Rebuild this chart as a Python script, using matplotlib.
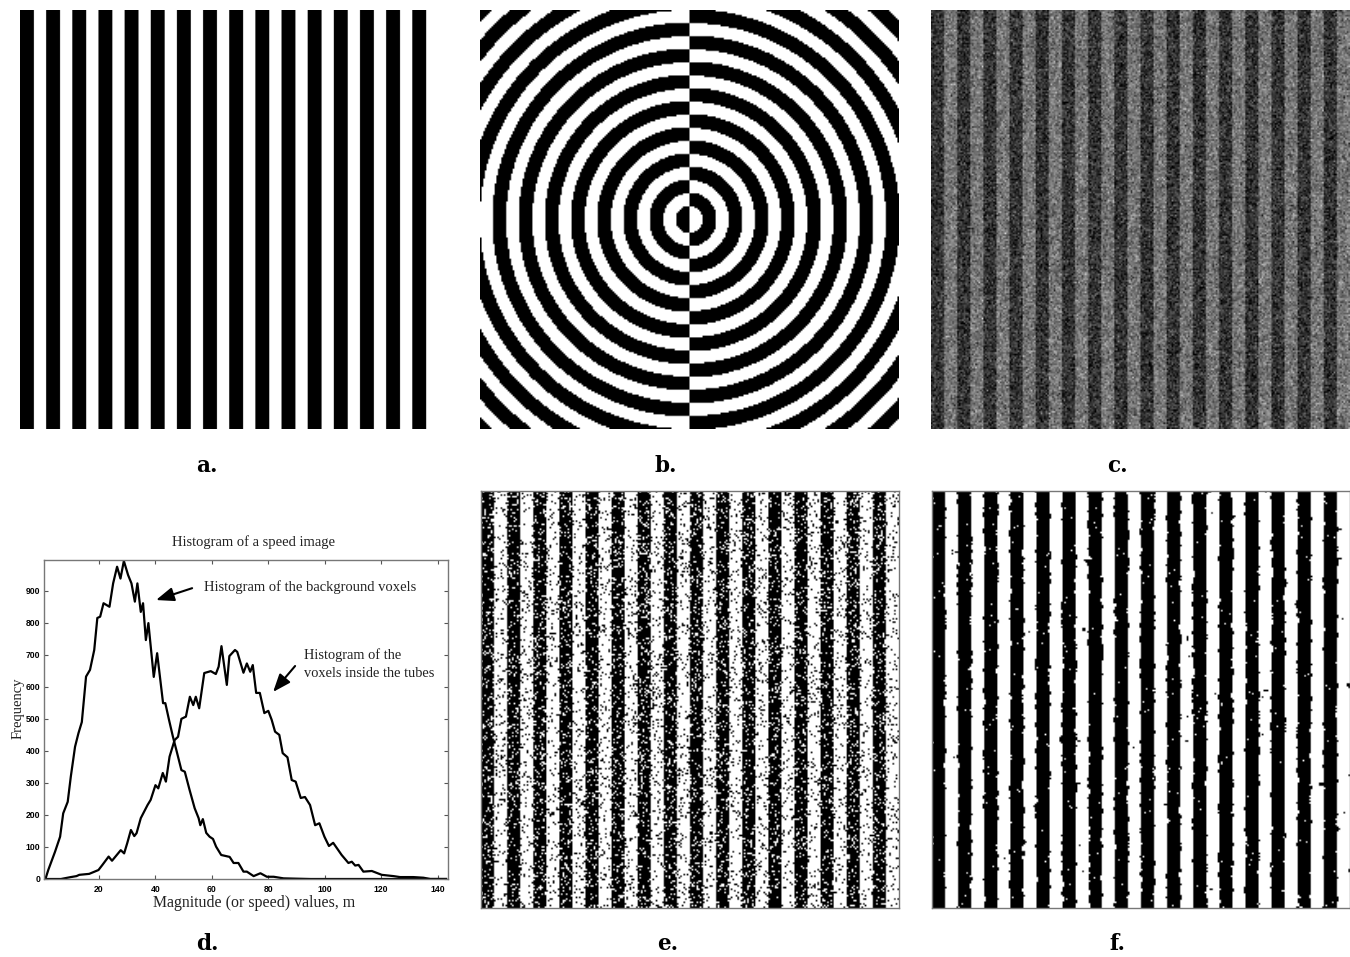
# Six panels: stripe and ring test images plus a speed histogram
import numpy as np
import matplotlib
matplotlib.use('Agg')
import matplotlib.pyplot as plt

W, H = 1350, 957

panel_labels = ['a.', 'b.', 'c.', 'd.', 'e.', 'f.']

# image panels are 256 px test images, stripes and rings repeat every 16 px
band = 8
period = 16
black_width = 8.5    # black bands print a bit wider than the white ones
grid = 256
stripes_a_cols = 249

# histogram of the background voxels
bg_x = [1, 2, 4.4, 6.2, 7.3, 8.9, 10, 11.5, 12.7, 13.9, 15.4, 16.8, 18.3, 19.4, 20.4, 21.6,
        23.7, 25, 26.4, 27.6, 28.8, 30.3, 31.5, 32.7, 33.6, 34.8, 35.6, 36.6, 37.5, 39.4,
        40.6, 42.7, 43.5, 44.8, 46.2, 47.4, 49.2, 50.4, 52.1, 53.9, 55.3, 55.9, 56.8, 58,
        59.2, 60.4, 61.5, 63.3, 66.3, 67.7, 69.4, 71.2, 72.4, 74.8, 77.2, 79.5, 81.9, 85.4,
        90, 95, 143]
bg_y = [0, 28, 85, 132, 205, 241, 320, 413, 455, 490, 632, 653, 715, 815, 819, 861,
        850, 923, 975, 938, 993, 949, 923, 866, 923, 834, 861, 746, 799, 631,
        705, 549, 549, 497, 444, 403, 340, 335, 278, 221, 190, 168, 187, 144,
        132, 125, 101, 75, 69, 50, 50, 23, 23, 9, 18, 7, 7, 2,
        1, 0, 0]

# histogram of the voxels inside the tubes
tube_x = [1, 3.6, 6.5, 10, 12, 13, 16.5, 19.8, 21.2, 23.4, 24.6, 27.7, 28.9, 30, 31.3, 32.5,
          33.3, 34.8, 37.2, 38.3, 40, 41, 42.6, 43.7, 45, 46.8, 48, 49.2, 50.8, 52.2, 53.4,
          54.3, 55.5, 57.3, 59.6, 61.4, 62.4, 63.4, 65.3, 66.2, 68.2, 69, 71.2, 72.4, 73.6,
          74.5, 75.7, 77, 78.6, 80, 81.2, 82.4, 83.9, 85.1, 86.8, 88.3, 89.7, 91.5, 93, 94.8,
          96.6, 98.1, 99.9, 101.5, 103, 106, 108.4, 109.6, 110.8, 112, 113.7, 116.7, 120.2,
          124.4, 126.7, 131.4, 135, 137.4, 143]
tube_y = [0, 0, 0, 6, 9, 13, 16, 28, 44, 70, 57, 90, 80, 112, 153, 134,
          143, 190, 231, 247, 293, 283, 331, 304, 382, 434, 444, 500, 507, 569, 543,
          569, 533, 643, 649, 640, 663, 727, 606, 696, 715, 709, 644, 673, 647,
          668, 581, 581, 518, 525, 497, 460, 450, 393, 380, 309, 304, 253, 256, 231,
          168, 174, 132, 103, 113, 75, 50, 54, 42, 44, 23, 25, 13,
          9, 6, 6, 4, 0, 0]

x_ticks = [20, 40, 60, 80, 100, 120, 140]
y_ticks = [0, 100, 200, 300, 400, 500, 600, 700, 800, 900]


def panel(left, top, right, bottom):
    return fig.add_axes([left / W, 1 - bottom / H, (right - left) / W, (bottom - top) / H])


def show(ax, img, framed=False, interp='bilinear'):
    ax.imshow(img, cmap='gray', vmin=0, vmax=1, interpolation=interp, aspect='auto')
    ax.set_xticks([])
    ax.set_yticks([])
    for s in ax.spines.values():
        s.set_visible(framed)
        s.set_color('#777777')
        s.set_linewidth(1)


def majority(img):
    # 3x3 majority vote, keeps some specks and rough stripe edges
    p = np.pad(img, 1, mode='edge')
    total = sum(np.roll(np.roll(p, i, 0), j, 1) for i in (-1, 0, 1) for j in (-1, 0, 1))
    return (total[1:-1, 1:-1] >= 5).astype(float)


fig = plt.figure(figsize=(W / 100, H / 100), dpi=100, facecolor='white')

cols = np.arange(grid)
rows = np.arange(grid)
xx, yy = np.meshgrid(cols, rows)
stripes = ((xx // band) % 2).astype(float)    # 0 black, 1 white

# a. clean stripes, sampled finer across so the black width can be fractional
fine_x = (np.arange(stripes_a_cols * 4) + 0.5) / 4
stripes_a = (fine_x % period >= black_width).astype(float)[None, :]
show(panel(20, 10, 427, 429), stripes_a, interp='hanning')

# b. rings, the right half has inverted contrast
r = np.hypot(xx - grid / 2 + 0.5, yy - grid / 2 + 0.5)
rings = np.where(xx < grid // 2, r % period >= black_width, (r + band) % period >= black_width)
show(panel(480, 10, 899, 429), rings.astype(float))

# speckle below is only a texture to look like the noise in the figure,
# it is not read from the picture pixel by pixel
rng = np.random.default_rng(7)

# c. stripes with gaussian noise
noisy = np.where(stripes == 0, 0.2, 0.46) + rng.normal(0, 0.11, stripes.shape)
show(panel(931, 10, 1350, 429), np.clip(noisy, 0, 1))

# e. thresholded noisy stripes
flip = np.where(stripes == 0, rng.random(stripes.shape) < 0.16, rng.random(stripes.shape) < 0.11)
show(panel(481, 491, 899, 908), np.where(flip, 1 - stripes, stripes), framed=True)

# f. after denoising, a few white specks stay in the black bands
flip = np.where(stripes == 0, rng.random(stripes.shape) < 0.08, rng.random(stripes.shape) < 0.12)
cleaned = majority(np.where(flip, 1 - stripes, stripes))
cleaned[(stripes == 0) & (rng.random(stripes.shape) < 0.008)] = 1
show(panel(932, 491, 1350, 908), cleaned, framed=True)

# d. histogram
ax = panel(44.3, 560, 448, 879)
ax.plot(bg_x, bg_y, color='black', lw=1.6)
ax.plot(tube_x, tube_y, color='black', lw=1.6)
ax.set_xlim(0.6, 143.7)
ax.set_ylim(0, 996)
ax.set_xticks(x_ticks)
ax.set_yticks(y_ticks)
ax.tick_params(direction='in', top=True, right=True, length=3, width=0.8, color='#555555',
               pad=3, labelsize=6.2)
ax.tick_params(axis='x', pad=4)
for lab in ax.get_xticklabels() + ax.get_yticklabels():
    lab.set_family('Liberation Sans')
    lab.set_fontweight('bold')
for s in ax.spines.values():
    s.set_color('#777777')
    s.set_linewidth(1)

serif = 'Liberation Serif'
ax.set_title('Histogram of a speed image', family=serif, fontsize=10.5, pad=10, x=0.519, color='#222222')
ax.set_xlabel('Magnitude (or speed) values, m', family=serif, fontsize=11.4, labelpad=1, x=0.519, color='#222222')
ax.set_ylabel('Frequency', family=serif, fontsize=10.5, labelpad=1, y=0.536, color='#222222')
ax.text(57.2, 911, 'Histogram of the background voxels', family=serif, fontsize=10.5, va='center', color='#222222')
ax.text(92.7, 699, 'Histogram of the', family=serif, fontsize=10.4, va='center', color='#222222')
ax.text(92.7, 643, 'voxels inside the tubes', family=serif, fontsize=10.4, va='center', color='#222222')
arrow = dict(arrowstyle='-|>,head_length=0.9,head_width=0.35', mutation_scale=12, color='black', lw=1.5,
             shrinkA=0, shrinkB=0)
ax.annotate('', xy=(40.2, 871), xytext=(53, 908), arrowprops=arrow)
ax.annotate('', xy=(81.7, 584), xytext=(89.5, 665), arrowprops=arrow)

# panel letters
label_x = [207, 666, 1117, 207, 668, 1117]
label_y = [466, 466, 466, 944, 944, 944]
for t, lx, ly in zip(panel_labels, label_x, label_y):
    fig.text(lx / W, 1 - ly / H, t, family='DejaVu Serif', fontweight='bold', fontsize=15.5,
             ha='center', va='center')

fig.savefig('out.png', dpi=100)
